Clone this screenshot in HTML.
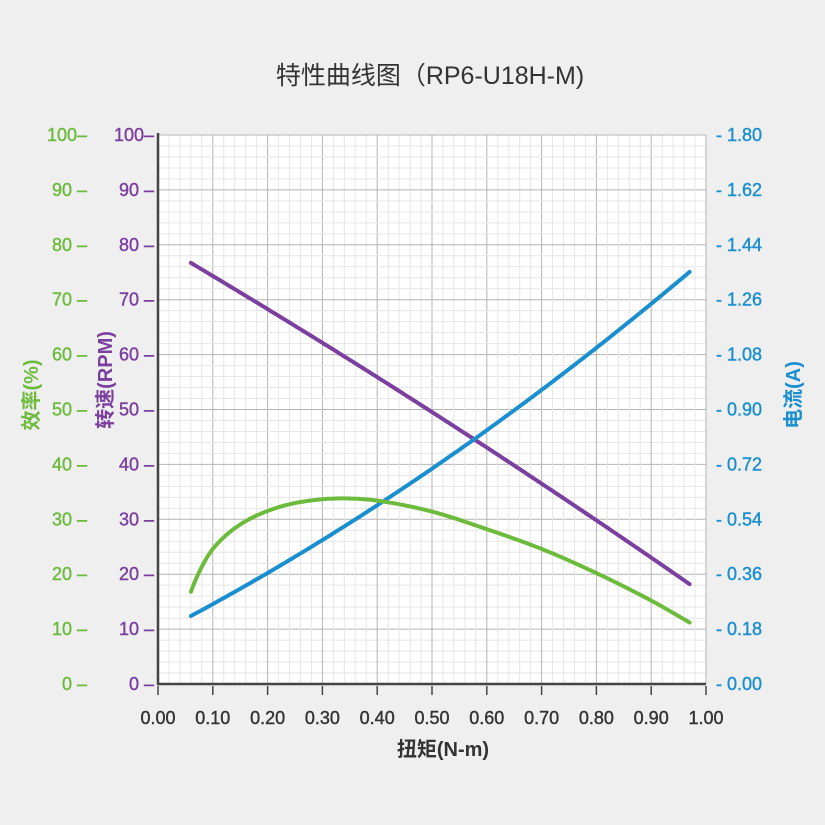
<!DOCTYPE html>
<html><head><meta charset="utf-8"><style>
body{margin:0;background:#efefef;}
svg{display:block;font-family:"Liberation Sans","Noto Sans CJK SC",sans-serif;}
</style></head><body>
<svg id="s" width="825" height="825" xmlns="http://www.w3.org/2000/svg"></svg>
<script>
var s=document.getElementById('s'),h='';
var L=158,R=706,T=135,B=684;
function X(v){return L+v*(R-L);} function Y(p){return B-p/100*(B-T);}
h+='<rect x="0" y="0" width="825" height="825" fill="#efefef"/>';
h+='<rect x="'+L+'" y="'+T+'" width="'+(R-L)+'" height="'+(B-T)+'" fill="#fff"/>';
for(var i=0;i<=50;i++){var x=X(i/50),y=Y(i*2),maj=i%5==0;
h+='<line x1="'+x+'" y1="'+T+'" x2="'+x+'" y2="'+B+'" stroke="'+(maj?'#b4b4b4':'#e6e6e6')+'" stroke-width="1"/>';
h+='<line x1="'+L+'" y1="'+y+'" x2="'+R+'" y2="'+y+'" stroke="'+(maj?'#b4b4b4':'#e6e6e6')+'" stroke-width="1"/>';}
h+='<line x1="'+L+'" y1="'+(T-2)+'" x2="'+L+'" y2="'+(B+1)+'" stroke="#444" stroke-width="2.5"/>';
h+='<line x1="'+(L-1)+'" y1="'+B+'" x2="'+R+'" y2="'+B+'" stroke="#444" stroke-width="2.5"/>';
for(var i=0;i<=10;i++){var y=Y(i*10),x=X(i/10);
h+='<text x="87" y="'+(y+6)+'" text-anchor="end" font-size="18" fill="#6cbb3c" stroke="#6cbb3c" stroke-width="0.4">'+(i*10)+(i==10?'':' ')+'–</text>';
h+='<text x="154" y="'+(y+6)+'" text-anchor="end" font-size="18" fill="#7b3fa0" stroke="#7b3fa0" stroke-width="0.4">'+(i*10)+(i==10?'':' ')+'–</text>';
h+='<text x="716" y="'+(y+6)+'" font-size="18" fill="#1a8fd0" stroke="#1a8fd0" stroke-width="0.4">- '+(i*0.18).toFixed(2)+'</text>';
h+='<line x1="'+x+'" y1="'+(B+2)+'' +'" x2="'+x+'" y2="'+(B+11)+'" stroke="#444" stroke-width="1.5"/>';
h+='<text x="'+x+'" y="724" text-anchor="middle" font-size="18" fill="#333" stroke="#333" stroke-width="0.4">'+(i/10).toFixed(2)+'</text>';}
h+='<text x="430" y="84" text-anchor="middle" font-size="25" fill="#333">特性曲线图（RP6-U18H-M)</text>';
h+='<text x="443" y="756" text-anchor="middle" font-size="20" fill="#333" font-weight="bold">扭矩(N-m)</text>';
h+='<text transform="translate(38,395) rotate(-90)" text-anchor="middle" font-size="20" fill="#6cbb3c" font-weight="bold">效率(%)</text>';
h+='<text transform="translate(112,380) rotate(-90)" text-anchor="middle" font-size="20" fill="#7b3fa0" font-weight="bold">转速(RPM)</text>';
h+='<text transform="translate(800,395) rotate(-90)" text-anchor="middle" font-size="20" fill="#1a8fd0" font-weight="bold">电流(A)</text>';
function path(f,c){var d='';for(var t=0.06;t<=0.9701;t+=0.005){d+=(d?'L':'M')+X(t).toFixed(1)+','+Y(f(t)).toFixed(1);}
h+='<path d="'+d+'" fill="none" stroke="'+c+'" stroke-width="4" stroke-linecap="round"/>';}
path(function(t){var u=(t-0.06)/0.91;return 76.7-58.5*u+4.5*u*(1-u);},'#7b3fa0');
path(function(t){var u=(t-0.06)/0.91;var a=0.223+1.128*u-0.25*u*(1-u);return a/1.8*100;},'#1a8fd0');
var E=[[0.06,16.8],[0.07,19.3],[0.085,22.3],[0.1,24.6],[0.13,27.6],[0.17,30.2],[0.22,32.2],[0.27,33.3],[0.33,33.8],[0.4,33.4],[0.5,31.4],[0.6,28.2],[0.7,24.6],[0.8,20.2],[0.9,15.2],[0.97,11.2]];
function ef(t){for(var i=0;i<E.length-1;i++){if(t<=E[i+1][0]+1e-9){var p0=E[Math.max(i-1,0)],p1=E[i],p2=E[i+1],p3=E[Math.min(i+2,E.length-1)];
var u=(t-p1[0])/(p2[0]-p1[0]);var m1=(p2[1]-p0[1])/(p2[0]-p0[0])*(p2[0]-p1[0]),m2=(p3[1]-p1[1])/(p3[0]-p1[0])*(p2[0]-p1[0]);
var u2=u*u,u3=u2*u;return (2*u3-3*u2+1)*p1[1]+(u3-2*u2+u)*m1+(-2*u3+3*u2)*p2[1]+(u3-u2)*m2;}}return E[E.length-1][1];}
path(ef,'#6cbb3c');
s.innerHTML=h;
</script>
</body></html>
